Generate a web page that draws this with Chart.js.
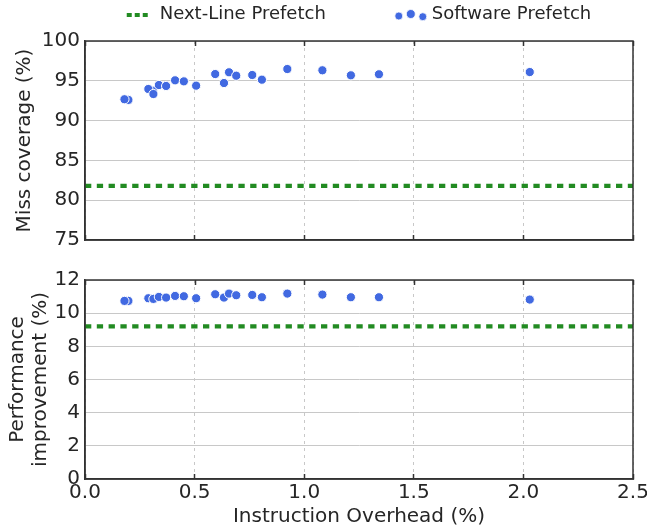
<!DOCTYPE html>
<html><head><meta charset="utf-8">
<script src="https://cdn.jsdelivr.net/npm/chart.js@4"></script>
<style>
html,body{margin:0;padding:0;background:#fff;overflow:hidden;width:647px;height:529px}
canvas{position:absolute;left:0}
#c1{top:0}
#c2{top:255px}
</style></head>
<body>
<canvas id="c1" width="647" height="255" style="width:647px;height:255px"></canvas>
<canvas id="c2" width="647" height="274" style="width:647px;height:274px"></canvas>
<script>
// ---- data ----
const seriesNames = ['Next-Line Prefetch', 'Software Prefetch'];
const overhead = [0.198, 0.18, 0.31, 0.289, 0.312, 0.337, 0.37, 0.411, 0.451, 0.507, 0.594, 0.634, 0.657, 0.69, 0.763, 0.807, 0.923, 1.083, 1.213, 1.341, 2.029];
const missCoverage = [92.6, 92.68, 93.76, 93.97, 93.34, 94.47, 94.35, 95.06, 94.93, 94.39, 95.85, 94.72, 96.07, 95.64, 95.73, 95.14, 96.48, 96.32, 95.69, 95.82, 96.1];
const perfImprovement = [10.74, 10.74, 10.88, 10.9, 10.86, 10.98, 10.94, 11.04, 11.02, 10.9, 11.14, 10.94, 11.18, 11.08, 11.1, 10.96, 11.18, 11.12, 10.96, 10.96, 10.82];
const nextLineMiss = 81.8;
const nextLinePerf = 9.2;
const xRange = [0, 2.5];
const xTicks = [0, 0.5, 1.0, 1.5, 2.0, 2.5];
const missTicks = [75, 80, 85, 90, 95, 100];
const perfTicks = [0, 2, 4, 6, 8, 10, 12];
const xTitle = 'Instruction Overhead (%)';
const missTitle = 'Miss coverage (%)';
const perfTitle = ['Performance', 'improvement (%)'];

// ---- styles ----
const GREEN = '#228B22';
const BLUE = '#4169E1';
const TEXT = '#262626';
const AXIS = '#333333';
const GRID = '#c8c8c8';
Chart.defaults.font.family = "'DejaVu Sans', sans-serif";
Chart.defaults.color = TEXT;

const framePlugin = {
  id: 'frame',
  afterDraw(chart) {
    const {ctx, chartArea: a} = chart;
    const xs = chart.scales.x;
    ctx.save();
    ctx.strokeStyle = AXIS;
    ctx.lineWidth = 1.5;
    ctx.beginPath();
    xs.ticks.forEach(t => {
      const px = Math.round(xs.getPixelForValue(t.value)) + 0.5;
      ctx.moveTo(px, a.top); ctx.lineTo(px, a.top + 5);
    });
    ctx.stroke();
    ctx.strokeRect(a.left, a.top, a.right - a.left, a.bottom - a.top);
    ctx.restore();
  }
};

const legendPlugin = {
  id: 'customLegend',
  afterDraw(chart) {
    const {ctx, chartArea: a} = chart;
    ctx.save();
    ctx.font = "18px 'DejaVu Sans', sans-serif";
    ctx.fillStyle = TEXT;
    ctx.textBaseline = 'middle';
    ctx.textAlign = 'left';
    const w1 = ctx.measureText(seriesNames[0]).width;
    const w2 = ctx.measureText(seriesNames[1]).width;
    const m1 = 26, g1 = 7, sp = 70, m2 = 30, g2 = 6;
    const total = m1 + g1 + w1 + sp + m2 + g2 + w2;
    let x = (a.left + a.right) / 2 - total / 2;
    const y = 14;
    ctx.strokeStyle = GREEN;
    ctx.lineWidth = 4;
    ctx.setLineDash([5, 3]);
    ctx.beginPath(); ctx.moveTo(x, y + 1); ctx.lineTo(x + m1 - 2, y + 1); ctx.stroke();
    ctx.setLineDash([]);
    ctx.fillText(seriesNames[0], x + m1 + g1, y);
    x += m1 + g1 + w1 + sp;
    const dots = [[3, 2, 4], [15, 0, 4.5], [27, 2.7, 4]];
    dots.forEach(([dx, dy, r]) => {
      ctx.beginPath(); ctx.arc(x + dx, y + dy, r, 0, Math.PI * 2);
      ctx.fillStyle = BLUE; ctx.fill();
      ctx.strokeStyle = '#fff'; ctx.lineWidth = 0.8; ctx.stroke();
    });
    ctx.fillStyle = TEXT;
    ctx.fillText(seriesNames[1], x + m2 + g2, y);
    ctx.restore();
  }
};

function makeChart(canvasId, yVals, nextLineVal, yTicks, yTitleText, showXLabels, pad, xHeight, plugins) {
  const yTitlePad = Array.isArray(yTitleText) ? 6 : 13.5;
  return new Chart(document.getElementById(canvasId), {
    data: {
      datasets: [
        {
          type: 'scatter',
          label: seriesNames[1],
          data: overhead.map((x, i) => ({x: x, y: yVals[i]})),
          backgroundColor: BLUE,
          borderColor: '#ffffff',
          borderWidth: 1,
          pointRadius: 4.6,
          order: 1
        },
        {
          type: 'line',
          label: seriesNames[0],
          data: xRange.map(x => ({x: x, y: nextLineVal})),
          borderColor: GREEN,
          borderWidth: 4.3,
          borderDash: [6.3, 5.5],
          borderCapStyle: 'butt',
          pointRadius: 0,
          fill: false,
          order: 2
        }
      ]
    },
    options: {
      responsive: false,
      animation: false,
      devicePixelRatio: 1,
      layout: {padding: pad},
      plugins: {legend: {display: false}, tooltip: {enabled: false}},
      scales: {
        x: {
          type: 'linear',
          min: xRange[0], max: xRange[1],
          afterBuildTicks: s => { s.ticks = xTicks.map(v => ({value: v})); },
          afterFit: s => { s.height = xHeight; s.paddingLeft = 0; s.paddingRight = 0; },
          grid: {color: GRID, lineWidth: 1, drawTicks: true, tickLength: -5, tickColor: AXIS, tickWidth: 1.5},
          border: {display: true, color: AXIS, width: 1.5, dash: [3, 4]},
          ticks: {display: showXLabels, padding: 7, font: {size: 20}, color: TEXT, maxRotation: 0,
                  callback: v => Number(v).toFixed(1)},
          title: {display: showXLabels, text: xTitle, font: {size: 20}, color: TEXT, padding: {top: 0, bottom: 0}}
        },
        y: {
          type: 'linear',
          min: yTicks[0], max: yTicks[yTicks.length - 1],
          afterBuildTicks: s => { s.ticks = yTicks.map(v => ({value: v})); },
          afterFit: s => { s.width = 85; s.paddingTop = 0; s.paddingBottom = 0; },
          grid: {color: GRID, lineWidth: 1, drawTicks: false},
          border: {display: true, color: AXIS, width: 1.5},
          ticks: {padding: 5, font: {size: 20}, color: TEXT},
          title: {display: true, text: yTitleText, font: {size: 20, lineHeight: 1.15}, color: TEXT, padding: {top: yTitlePad, bottom: 0}}
        }
      }
    },
    plugins: plugins
  });
}

makeChart('c1', missCoverage, nextLineMiss, missTicks, missTitle, false,
  {top: 41, right: 14, bottom: 5, left: 0}, 10, [framePlugin, legendPlugin]);
makeChart('c2', perfImprovement, nextLinePerf, perfTicks, perfTitle, true,
  {top: 25, right: 14, bottom: 0, left: 0}, 50, [framePlugin]);
</script>
</body></html>
